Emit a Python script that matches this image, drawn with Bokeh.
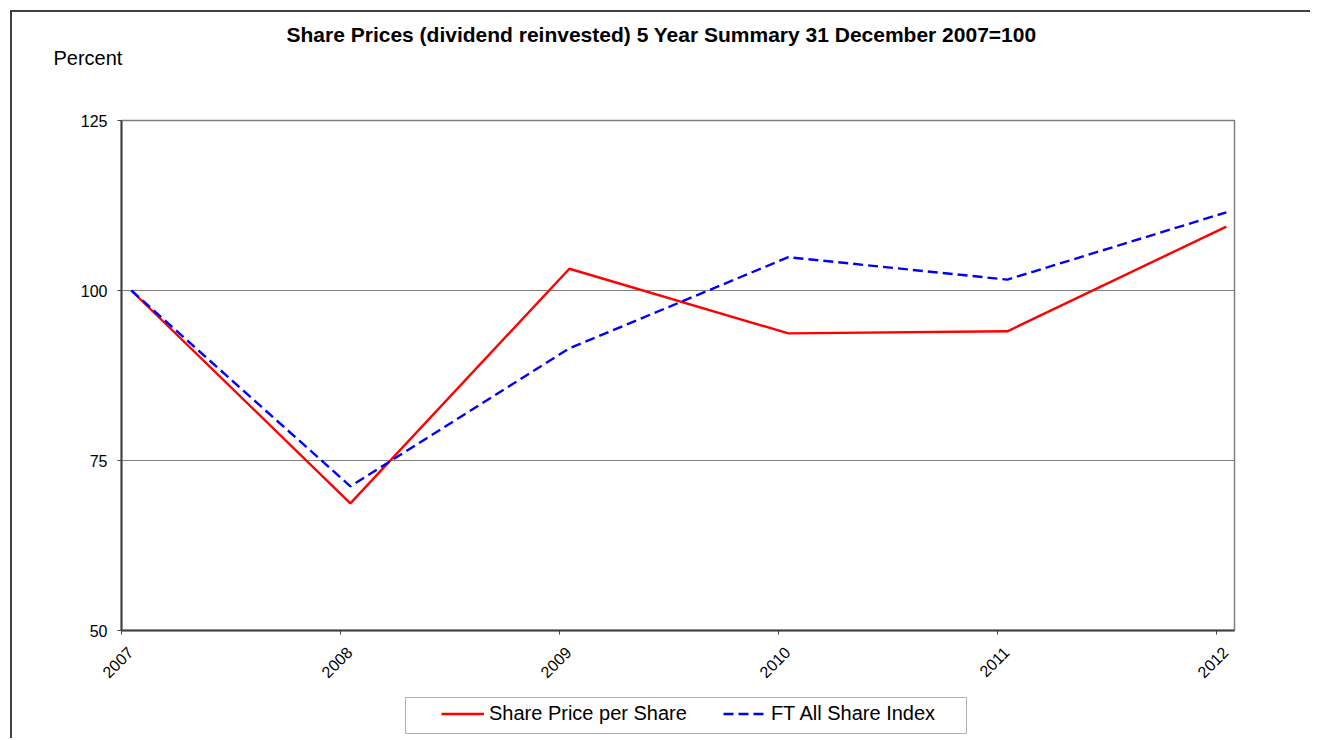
from bokeh.plotting import figure
from bokeh.models import (Range1d, FixedTicker, Legend, LegendItem, Title,
                          LinearAxis, ColumnDataSource, BoxAnnotation)
from bokeh.layouts import column
from bokeh.embed import file_html
from bokeh.resources import INLINE
import math

# ---- data ----
years = [2007, 2008, 2009, 2010, 2011, 2012]
share_price = [100.0, 68.7, 103.2, 93.7, 94.0, 109.4]
ft_all_share = [100.0, 71.2, 91.5, 104.9, 101.6, 111.5]
y_ticks = [50, 75, 100, 125]
grid_values = [75, 100]
title_text = "Share Prices (dividend reinvested) 5 Year Summary 31 December 2007=100"
y_label = "Percent"
series_names = ["Share Price per Share", "FT All Share Index"]

FONT = "Liberation Sans"
RED, BLUE, DASH = "#FF0000", "#0000FF", "10 5"
POINT_OFFSET = 0.045   # points sit slightly right of the year ticks
LABEL_SHIFT = 0.04     # year labels sit slightly right of their ticks
X_START, X_END = 2007, 2012.082
W = 1300

src = ColumnDataSource(dict(
    x=[y + POINT_OFFSET for y in years],
    share=share_price,
    ft=ft_all_share,
))

p = figure(width=W, height=680, output_backend="svg", toolbar_location=None,
           x_range=Range1d(X_START, X_END), y_range=Range1d(50, 125),
           min_border_left=109, min_border_top=108, min_border_right=78,
           min_border_bottom=62, x_axis_location=None)
p.title_location = None
p.extra_x_ranges = {"labels": Range1d(X_START - LABEL_SHIFT, X_END - LABEL_SHIFT)}
p.background_fill_color = "white"
p.border_fill_color = "white"
p.outline_line_color = "#808080"
p.outline_line_width = 1.5

p.line("x", "share", source=src, line_color=RED, line_width=2.4)
p.line("x", "ft", source=src, line_color=BLUE, line_width=2.4, line_dash=DASH)

# x axis: tick marks on the year positions
tick_axis = LinearAxis(ticker=FixedTicker(ticks=years),
                       major_label_overrides={y: "" for y in years},
                       major_label_text_font_size="0px", major_label_standoff=0,
                       axis_line_color="#404040", axis_line_width=2,
                       major_tick_line_color="#404040", major_tick_in=0,
                       major_tick_out=4, minor_tick_line_color=None)
p.add_layout(tick_axis, "below")
# x axis labels, slightly to the right of the ticks
label_axis = LinearAxis(x_range_name="labels", ticker=FixedTicker(ticks=years),
                        major_label_overrides={y: str(y) for y in years},
                        major_label_orientation=math.pi / 4,
                        major_label_standoff=9,
                        major_label_text_font=FONT,
                        major_label_text_font_size="16px",
                        major_label_text_color="black",
                        axis_line_color=None, major_tick_line_color=None,
                        minor_tick_line_color=None)
p.add_layout(label_axis, "below")

ya = p.yaxis[0]
ya.ticker = FixedTicker(ticks=y_ticks)
ya.axis_line_color = "#404040"
ya.axis_line_width = 2
ya.major_tick_line_color = "#404040"
ya.major_tick_in = 0
ya.major_tick_out = 4
ya.minor_tick_line_color = None
ya.major_label_text_font = FONT
ya.major_label_text_font_size = "16px"
ya.major_label_text_color = "black"
ya.major_label_standoff = 10

p.xgrid.grid_line_color = None
p.ygrid.ticker = FixedTicker(ticks=grid_values)
p.ygrid.grid_line_color = "#808080"
p.ygrid.grid_line_width = 1

# titles (closest to the frame first); the empty lines keep "Percent" high
p.add_layout(Title(text=y_label + "\n\n", align="left", offset=-68, standoff=0,
                   text_font=FONT, text_font_size="20px", text_line_height=1.16,
                   text_font_style="normal", text_color="black"), "above")
p.add_layout(Title(text=title_text, align="left", offset=165, standoff=0,
                   text_font=FONT, text_font_size="21px",
                   text_font_style="bold", text_color="black"), "above")

# ---- legend strip below the plot (its frame is aligned with the plot frame) ----
LH = 48
lg = figure(width=W, height=LH, output_backend="svg", toolbar_location=None,
            x_axis_location=None, y_axis_location=None,
            x_range=Range1d(0, 1), y_range=Range1d(0, 1),
            min_border=0, min_border_left=0, min_border_right=0,
            min_border_top=0, min_border_bottom=0)
lg.title_location = None
lg.outline_line_color = None
lg.xgrid.visible = False
lg.ygrid.visible = False
lg.background_fill_color = "white"
lg.border_fill_color = "white"
# same series, drawn outside this strip's range: only their legend glyphs show
k1 = lg.line("x", "share", source=src, line_color=RED, line_width=2.4)
k2 = lg.line("x", "ft", source=src, line_color=BLUE, line_width=2.4,
             line_dash=DASH)
legend = Legend(items=[LegendItem(label=series_names[0], renderers=[k1]),
                       LegendItem(label=series_names[1], renderers=[k2])],
                orientation="horizontal", location=(320, 15),
                border_line_color=None, background_fill_alpha=0,
                padding=0, margin=0, spacing=36, glyph_width=43,
                glyph_height=21, label_height=21, label_standoff=5,
                label_text_font=FONT, label_text_font_size="20px",
                label_text_color="black")
lg.add_layout(legend)
lg.add_layout(BoxAnnotation(left=284, right=845, top=LH - 5, bottom=7,
                            left_units="screen", right_units="screen",
                            top_units="screen", bottom_units="screen",
                            fill_alpha=0, line_color="black", line_width=1))

layout = column(p, lg, spacing=0, margin=(12, 0, 0, 12),
                styles={"box-shadow": "-2px -2px 0 0 #404040"})

open("out.html", "w").write(file_html(layout, INLINE))
